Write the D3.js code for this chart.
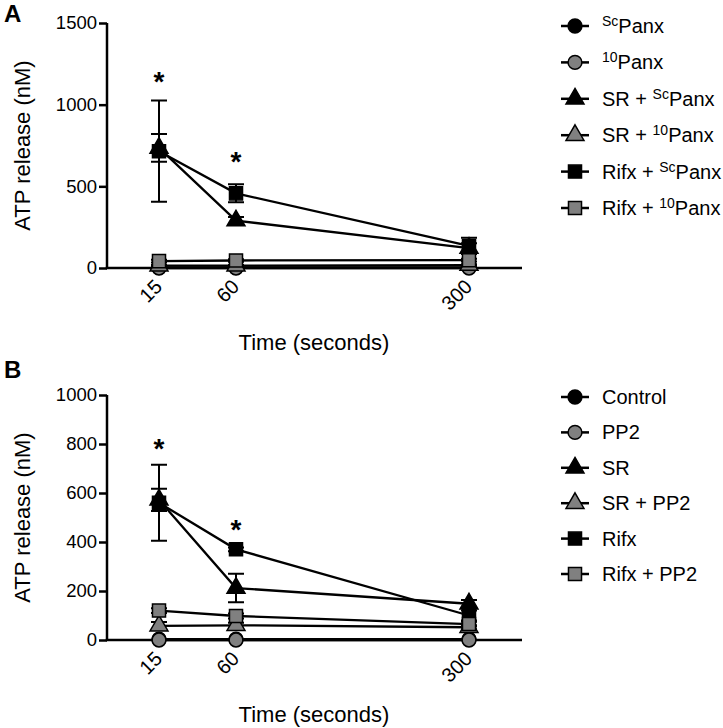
<!DOCTYPE html>
<html><head><meta charset="utf-8">
<script src="https://cdn.jsdelivr.net/npm/d3@7"></script>
<style>body{margin:0;background:#fff}svg{display:block;font-family:"Liberation Sans",Arial,sans-serif}</style>
</head><body><svg id="c" width="723" height="728"></svg>
<script>
// ---------- data ----------
const times = [15, 60, 300];
const timeLabels = ["15", "60", "300"];

// Panel A
const seriesA = ["ScPanx", "10Panx", "SR + ScPanx", "SR + 10Panx", "Rifx + ScPanx", "Rifx + 10Panx"];
const scPanx = [3, 3, 4];
const tenPanx = [0, 0, 0];
const srScPanx = [735, 290, 122];
const srScPanxErr = [85, 22, 30];
const srTenPanx = [14, 14, 18];
const srTenPanxErr = [5, 5, 5];
const rifxScPanx = [715, 457, 135];
const rifxScPanxErr = [310, 55, 50];
const rifxTenPanx = [42, 46, 48];
const rifxTenPanxErr = [8, 8, 8];
const yTicksA = [0, 500, 1000, 1500];
const starsA = [[15, 1170], [60, 680]];

// Panel B
const seriesB = ["Control", "PP2", "SR", "SR + PP2", "Rifx", "Rifx + PP2"];
const control = [3, 3, 3];
const pp2 = [0, 0, 0];
const sr = [572, 212, 148];
const srErr = [45, 58, 15];
const srPP2 = [58, 60, 52];
const srPP2Err = [15, 10, 8];
const rifx = [560, 370, 100];
const rifxErr = [155, 8, 20];
const rifxPP2 = [120, 98, 65];
const rifxPP2Err = [10, 10, 10];
const yTicksB = [0, 200, 400, 600, 800, 1000];
const starsB = [[15, 800], [60, 470]];

// marker styles per legend row
const shapes = ["circle", "circle", "triangle", "triangle", "square", "square"];
const fills = ["#000", "#808080", "#000", "#808080", "#000", "#808080"];

const svg = d3.select("#c");

function markerPath(shape) {
  const sym = shape === "circle" ? d3.symbolCircle : shape === "triangle" ? d3.symbolTriangle : d3.symbolSquare;
  const size = shape === "circle" ? 150 : shape === "triangle" ? 140 : 170;
  return d3.symbol().type(sym).size(size)();
}

function drawPanel(cfg) {
  const g = svg.append("g");
  const x = d3.scaleLinear().domain([0, 15, 60, 300, 355]).range([107, 159, 236, 469, 522]);
  const y = d3.scaleLinear().domain([0, cfg.yMax]).range([cfg.y0, cfg.yTop]);

  // panel letter
  g.append("text").attr("x", 4).attr("y", cfg.letterY).attr("font-size", 24).attr("font-weight", "bold").text(cfg.letter);

  // y axis
  const ya = g.append("g").attr("transform", "translate(107,0)")
    .call(d3.axisLeft(y).tickValues(cfg.yTicks).tickSize(8).tickPadding(2).tickFormat(d3.format("d")));
  ya.select(".domain").attr("stroke-width", 2.5).attr("d", `M0,${cfg.y0}V${cfg.yTop}`);
  ya.selectAll(".tick line").attr("stroke-width", 2.5);
  ya.selectAll(".tick text").attr("font-size", 18.5).attr("fill", "#000").attr("font-family", "Liberation Sans, Arial, sans-serif");

  // x axis
  const xa = g.append("g").attr("transform", `translate(0,${cfg.y0})`)
    .call(d3.axisBottom(x).tickValues(times).tickSize(6).tickFormat((d, i) => timeLabels[i]));
  xa.select(".domain").attr("stroke-width", 2.5).attr("d", `M105.75,0H522`);
  xa.selectAll(".tick line").attr("stroke-width", 2.5);
  xa.selectAll(".tick text").attr("font-size", 20).attr("fill", "#000")
    .attr("font-family", "Liberation Sans, Arial, sans-serif")
    .attr("text-anchor", "end").attr("dy", "0.35em").attr("y", 0)
    .attr("transform", "translate(-1,15) rotate(-45)");

  // axis titles
  g.append("text").attr("x", 314).attr("y", cfg.y0 + 82).attr("text-anchor", "middle").attr("font-size", 22).text("Time (seconds)");
  g.append("text").attr("transform", `translate(30,${(cfg.y0 + cfg.yTop) / 2}) rotate(-90)`).attr("text-anchor", "middle").attr("font-size", 22).text("ATP release (nM)");

  // series
  cfg.series.forEach((s, i) => {
    const pts = s.values.map((v, j) => ({ t: times[j], v, e: s.err ? s.err[j] : 0 }));
    const sg = g.append("g");
    sg.append("path").datum(pts).attr("fill", "none").attr("stroke", "#000").attr("stroke-width", 2.3)
      .attr("d", d3.line().x(d => x(d.t)).y(d => y(d.v)));
    pts.filter(d => d.e > 0).forEach(d => {
      const cx = x(d.t), yl = y(Math.max(0, d.v - d.e)), yh = y(d.v + d.e);
      sg.append("path").attr("stroke", "#000").attr("stroke-width", 2).attr("fill", "none")
        .attr("d", `M${cx},${yl}V${yh}M${cx - 8},${yh}H${cx + 8}M${cx - 8},${yl}H${cx + 8}`);
    });
    sg.selectAll(".m").data(pts).join("path")
      .attr("transform", d => `translate(${x(d.t)},${y(d.v)})`)
      .attr("d", markerPath(shapes[i])).attr("fill", fills[i]).attr("stroke", "#000").attr("stroke-width", 1.5);
  });

  // stars
  cfg.stars.forEach(st => {
    g.append("text").attr("x", x(st[0])).attr("y", y(st[1]) + 14).attr("text-anchor", "middle")
      .attr("font-size", 28).attr("font-weight", "bold").text("*");
  });

  // legend
  cfg.legend.forEach((lab, i) => {
    const ly = cfg.legY + i * cfg.legStep;
    g.append("line").attr("x1", 561).attr("x2", 589).attr("y1", ly).attr("y2", ly).attr("stroke", "#000").attr("stroke-width", 2.5);
    g.append("path").attr("transform", `translate(575,${ly})`).attr("d", markerPath(shapes[i]))
      .attr("fill", fills[i]).attr("stroke", "#000").attr("stroke-width", 1.5);
    const t = g.append("text").attr("x", 602).attr("y", ly + 7).attr("font-size", 20);
    const m = lab.match(/^(.*?)(Sc|10)(Panx)$/);
    if (m) {
      if (m[1]) t.append("tspan").text(m[1]);
      t.append("tspan").attr("font-size", 14).attr("dy", -7).text(m[2]);
      t.append("tspan").attr("dy", 7).text(m[3]);
    } else {
      t.text(lab);
    }
  });
}

drawPanel({
  letter: "A", letterY: 22, y0: 268, yTop: 23, yMax: 1500, yTicks: yTicksA,
  series: [
    { values: scPanx }, { values: tenPanx },
    { values: srScPanx, err: srScPanxErr }, { values: srTenPanx, err: srTenPanxErr },
    { values: rifxScPanx, err: rifxScPanxErr }, { values: rifxTenPanx, err: rifxTenPanxErr }
  ],
  stars: starsA, legend: seriesA, legY: 26, legStep: 36.4
});
drawPanel({
  letter: "B", letterY: 378, y0: 640, yTop: 395, yMax: 1000, yTicks: yTicksB,
  series: [
    { values: control }, { values: pp2 },
    { values: sr, err: srErr }, { values: srPP2, err: srPP2Err },
    { values: rifx, err: rifxErr }, { values: rifxPP2, err: rifxPP2Err }
  ],
  stars: starsB, legend: seriesB, legY: 397, legStep: 35.4
});
</script></body></html>
